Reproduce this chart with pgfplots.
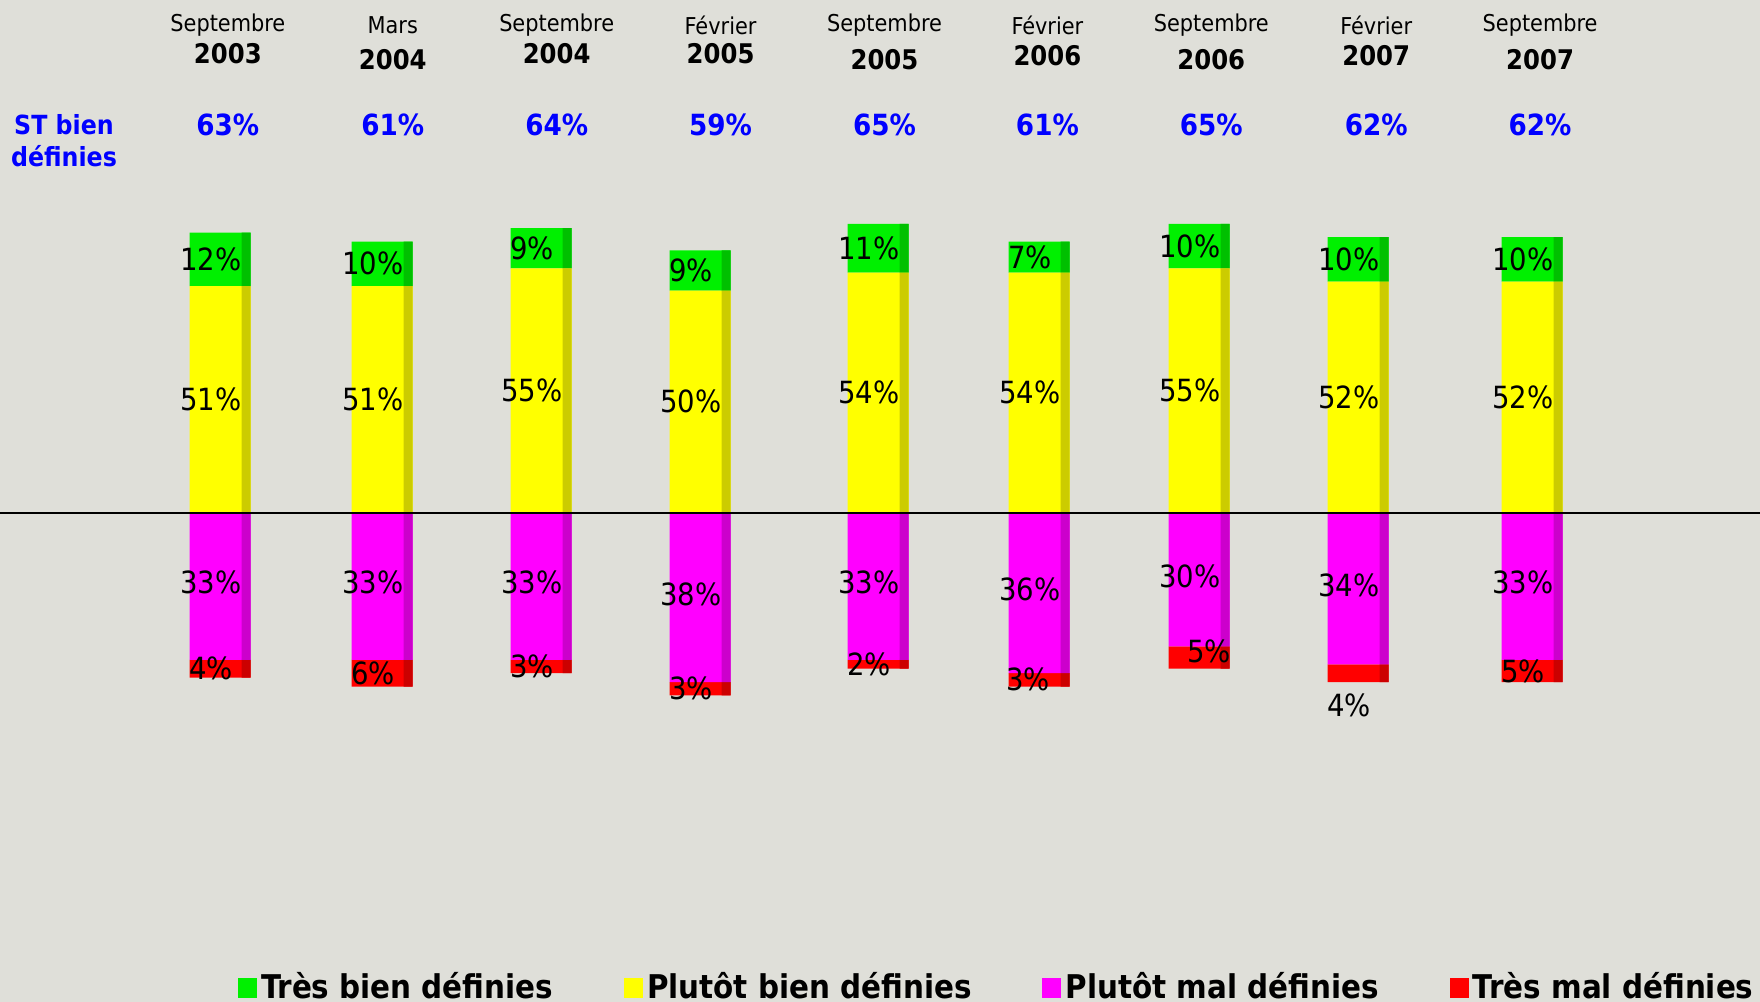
\documentclass[border=0pt]{standalone}
\usepackage{pgfplots}
\pgfplotsset{compat=1.18}
\usepackage{fontspec}
\setmainfont{DejaVu Sans Condensed}

\definecolor{bgc}{RGB}{223,223,217}
\definecolor{cGreen}{RGB}{0,240,0}
\definecolor{cYellow}{RGB}{255,255,0}
\definecolor{cMag}{RGB}{255,0,255}
\definecolor{cRed}{RGB}{255,0,0}
\definecolor{cBlue}{RGB}{0,0,255}

% common frame: x in pixels of the original, y in percent
\pgfplotsset{
  base/.style={
    scale only axis, width=17.6cm, height=10.02cm,
    at={(0,0)}, anchor=south west,
    xmin=0, xmax=1760, ymin=-109.9, ymax=115.3,
    hide axis, clip=false,
    ybar stacked, bar width=61,
  },
  side/.style={bar width=9, bar shift=26},
}

\pgfplotstableread{
x    tb  pb  pm   tm
220  12  51  -33  -4
382  10  51  -33  -6
541  9   55  -33  -3
700  9   50  -38  -3
878  11  54  -33  -2
1039 7   54  -36  -3
1199 10  55  -30  -5
1358 10  52  -34  -4
1532 10  52  -33  -5
}\vagues

\newcommand{\lbl}[1]{\fontsize{8.7}{9}\selectfont #1}

\begin{document}
\begin{tikzpicture}
\fill[bgc] (0,0) rectangle (17.6cm,10.02cm);
\useasboundingbox (0,0) rectangle (17.6cm,10.02cm);

% bien definies : faces avant
\begin{axis}[base]
\addplot[fill=cYellow, draw=none] table[x=x, y=pb] {\vagues};
\addplot[fill=cGreen, draw=none] table[x=x, y=tb] {\vagues};
\end{axis}
% bien definies : faces laterales
\begin{axis}[base, side]
\addplot[fill=cYellow!80!black, draw=none] table[x=x, y=pb] {\vagues};
\addplot[fill=cGreen!80!black, draw=none] table[x=x, y=tb] {\vagues};
\end{axis}
% mal definies : faces avant
\begin{axis}[base]
\addplot[fill=cMag, draw=none] table[x=x, y=pm] {\vagues};
\addplot[fill=cRed, draw=none] table[x=x, y=tm] {\vagues};
\end{axis}
% mal definies : faces laterales
\begin{axis}[base, side]
\addplot[fill=cMag!80!black, draw=none] table[x=x, y=pm] {\vagues};
\addplot[fill=cRed!80!black, draw=none] table[x=x, y=tm] {\vagues};
\end{axis}

% legende, ligne zero, etiquettes
\begin{axis}[base,
  legend columns=4,
  legend style={at={(rel axis cs:0.1347,0.014)}, anchor=west, draw=none, fill=none,
    font=\bfseries\fontsize{9.3}{10}\selectfont, inner sep=0pt,
    nodes={inner sep=1.2pt},
    /tikz/every even column/.append style={column sep=0.665cm}},
  legend image code/.code={\fill[#1, draw=none] (0cm,-0.1cm) rectangle (0.19cm,0.1cm);},
]
\addlegendimage{fill=cGreen}\addlegendentry{Très bien définies}
\addlegendimage{fill=cYellow}\addlegendentry{Plutôt bien définies}
\addlegendimage{fill=cMag}\addlegendentry{Plutôt mal définies}
\addlegendimage{fill=cRed}\addlegendentry{Très mal définies}

\draw[black, line width=0.5pt] (axis cs:0,0) -- (axis cs:1760,0);

\node at (axis cs:211,57)   {\lbl{12\%}};
\node at (axis cs:211,25.5) {\lbl{51\%}};
\node at (axis cs:211,-15.7){\lbl{33\%}};
\node at (axis cs:211,-35)  {\lbl{4\%}};
\node at (axis cs:373,56)   {\lbl{10\%}};
\node at (axis cs:373,25.5) {\lbl{51\%}};
\node at (axis cs:373,-15.7){\lbl{33\%}};
\node at (axis cs:373,-36)  {\lbl{6\%}};
\node at (axis cs:532,59.5) {\lbl{9\%}};
\node at (axis cs:532,27.5) {\lbl{55\%}};
\node at (axis cs:532,-15.7){\lbl{33\%}};
\node at (axis cs:532,-34.5){\lbl{3\%}};
\node at (axis cs:691,54.5) {\lbl{9\%}};
\node at (axis cs:691,25)   {\lbl{50\%}};
\node at (axis cs:691,-18.2){\lbl{38\%}};
\node at (axis cs:691,-39.5){\lbl{3\%}};
\node at (axis cs:869,59.5) {\lbl{11\%}};
\node at (axis cs:869,27)   {\lbl{54\%}};
\node at (axis cs:869,-15.7){\lbl{33\%}};
\node at (axis cs:869,-34)  {\lbl{2\%}};
\node at (axis cs:1030,57.5){\lbl{7\%}};
\node at (axis cs:1030,27)  {\lbl{54\%}};
\node at (axis cs:1030,-17.2){\lbl{36\%}};
\node at (axis cs:1028,-37.5){\lbl{3\%}};
\node at (axis cs:1190,60)  {\lbl{10\%}};
\node at (axis cs:1190,27.5){\lbl{55\%}};
\node at (axis cs:1190,-14.2){\lbl{30\%}};
\node at (axis cs:1209,-31) {\lbl{5\%}};
\node at (axis cs:1349,57)  {\lbl{10\%}};
\node at (axis cs:1349,26)  {\lbl{52\%}};
\node at (axis cs:1349,-16.3){\lbl{34\%}};
\node at (axis cs:1349,-43.3){\lbl{4\%}};
\node at (axis cs:1523,57)  {\lbl{10\%}};
\node at (axis cs:1523,26)  {\lbl{52\%}};
\node at (axis cs:1523,-15.7){\lbl{33\%}};
\node at (axis cs:1523,-35.5){\lbl{5\%}};
\end{axis}

% en-tetes (coordonnees en pixels depuis le coin haut gauche)
\begin{scope}[shift={(0,10.02cm)}, x=0.01cm, y=-0.01cm]
  \foreach \x/\m/\yr/\yy in {228/Septembre/2003/54, 393/Mars/2004/59.5, 557/Septembre/2004/54,
      721/Février/2005/54, 885/Septembre/2005/59.5, 1048/Février/2006/56,
      1212/Septembre/2006/59.5, 1377/Février/2007/56, 1541/Septembre/2007/59.5} {
    \node[font=\fontsize{6.6}{7}\selectfont] at (\x,25) {\m};
    \node[font=\bfseries\fontsize{7.7}{8}\selectfont] at (\x,\yy) {\yr};
  }
  \foreach \x/\p in {228/63, 393/61, 557/64, 721/59, 885/65, 1048/61, 1212/65, 1377/62, 1541/62} {
    \node[font=\bfseries\fontsize{8.3}{9}\selectfont, text=cBlue] at (\x,124.6) {\p\%};
  }
  \node[font=\bfseries\fontsize{7.5}{8}\selectfont, text=cBlue] at (64,124.6) {ST bien};
  \node[font=\bfseries\fontsize{7.5}{8}\selectfont, text=cBlue] at (64,156) {définies};
\end{scope}
\end{tikzpicture}
\end{document}
